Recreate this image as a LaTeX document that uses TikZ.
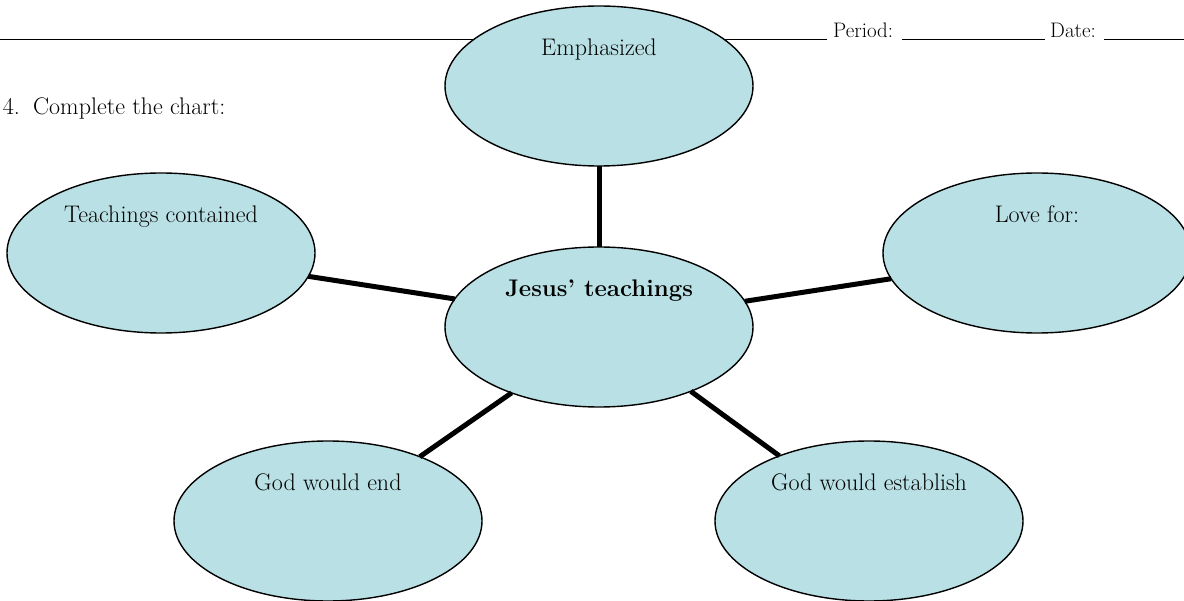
\documentclass[tikz,border=0pt]{standalone}
\usetikzlibrary{shapes.geometric,calc}
\definecolor{bubblefill}{RGB}{185,224,228}
\begin{document}
\begin{tikzpicture}[x=1pt,y=-1pt,
  bubble/.style={ellipse,draw=black,line width=1.4pt,fill=bubblefill,
    minimum width=308pt,minimum height=160pt,inner sep=0pt,outer sep=0pt},
  lbl/.style={anchor=base,inner sep=0pt,font=\fontsize{24}{28}\selectfont},
  hdr/.style={inner sep=0pt,font=\fontsize{21}{25}\selectfont},
  task/.style={inner sep=0pt,font=\fontsize{24}{28}\selectfont},
  link/.style={line width=5pt},
  rule/.style={line width=1pt}]
\useasboundingbox (0,0) rectangle (1184,601);
% header
\coordinate (r1a) at (0,40);
\coordinate (r1b) at (827,40);
\coordinate (r2a) at (902,40);
\coordinate (r2b) at (1045,40);
\coordinate (r3a) at (1104,40);
\coordinate (r3b) at (1184,40);
\draw[rule] (r1a) -- (r1b);
\draw[rule] (r2a) -- (r2b);
\draw[rule] (r3a) -- (r3b);
\node[hdr,anchor=base west] (period) at (833,38) {Period:};
\node[hdr,anchor=base west] (date) at (1050,38) {Date:};
\node[task,anchor=base east] (num) at (20,115) {4.};
\node[task,anchor=base west] (task) at (33,115) {Complete the chart:};
% ellipses
\node[bubble] (em) at (599,86) {};
\node[bubble] (tc) at (161,253) {};
\node[bubble] (je) at (599,327) {};
\node[bubble] (lf) at (1037,253) {};
\node[bubble] (ge) at (328,521) {};
\node[bubble] (gs) at (869,521) {};
% labels
\node[lbl] (emt) at ($(em.center)+(0,-30)$) {Emphasized};
\node[lbl] (tct) at ($(tc.center)+(0,-30)$) {Teachings contained};
\node[lbl] (jet) at ($(je.center)+(0,-30)$) {\bfseries Jesus' teachings};
\node[lbl] (lft) at ($(lf.center)+(0,-30)$) {Love for:};
\node[lbl] (get) at ($(ge.center)+(0,-30)$) {God would end};
\node[lbl] (gst) at ($(gs.center)+(0,-30)$) {God would establish};
% connectors
\draw[link] (em.south) -- (je.north);
\draw[link] (tc.-9.7) -- (je.169);
\draw[link] (je.10.3) -- (lf.-170.2);
\draw[link] (je.-143.9) -- (ge.35.7);
\draw[link] (je.-35.3) -- (gs.144);
\end{tikzpicture}
\end{document}
